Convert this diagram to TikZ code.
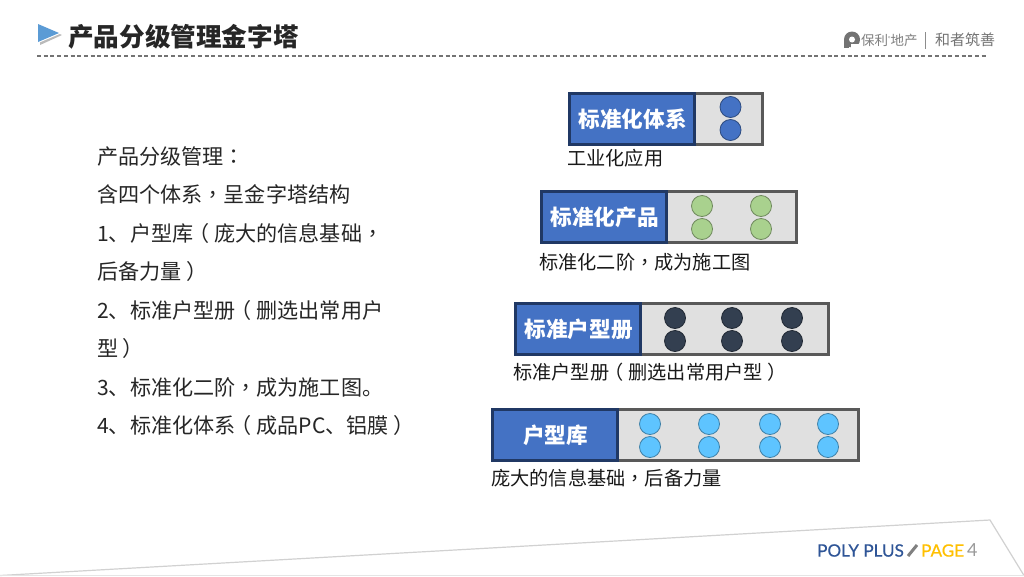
\documentclass[tikz,border=0pt]{standalone}
\usepackage{fontspec}
\setmainfont{Noto Sans CJK SC}
\newfontfamily\latinf{Lato}
\newfontfamily\tcf{Noto Sans CJK TC}
\newcommand{\cma}{{\tcf ，}}
\newcommand{\cln}{{\tcf ：}}
\newcommand{\lpr}{\hbox to 1em{\kern-0.22em （\hss}}
\newcommand{\rpr}{\hbox to 1em{\hss ）\kern-0.22em}}
\usetikzlibrary{calc}
\definecolor{bluefill}{HTML}{4472C4}
\definecolor{blueedge}{HTML}{203864}
\definecolor{grayfill}{HTML}{E0E0E0}
\definecolor{grayedge}{HTML}{595959}
\definecolor{greendot}{HTML}{A9D18E}
\definecolor{darkdot}{HTML}{333F50}
\definecolor{skydot}{HTML}{5EC4FF}
\definecolor{titlecol}{HTML}{262626}
\definecolor{polyblue}{HTML}{2F5597}
\definecolor{pageyel}{HTML}{FFC000}
\definecolor{triblue}{HTML}{5B9BD5}
\tikzset{
  trackbox/.style={draw=grayedge,fill=grayfill,line width=3pt,inner sep=0pt,anchor=north west},
  namebox/.style={draw=blueedge,fill=bluefill,line width=3pt,inner sep=0pt,anchor=north west,text=white,font=\fontsize{21.6}{24}\selectfont\bfseries,align=center},
  dot/.style={circle,draw=#1!65!black,fill=#1,line width=0.8pt,minimum size=21pt,inner sep=0pt},
  caption/.style={anchor=west,inner sep=0pt,text=black!90,font=\fontsize{19.2}{23}\selectfont},
}
\newcommand{\boxpair}[7]{% name,x0,xsplit,x1,y0,y1,text
  \node[trackbox,minimum width={(#4-#2-3)*1pt},minimum height={(#6-#5-3)*1pt}] (#1track) at (#2,#5) {};
  \node[namebox,minimum width={(#3-#2-3)*1pt},minimum height={(#6-#5-3)*1pt}] (#1name) at (#2,#5) {\hspace{1.5pt}\raisebox{-0.5pt}{#7}};
}
\newcommand{\dotcol}[5]{% name,x,ytop,ybot,colour
  \node[dot=#5] (#1t) at (#2,#3) {};
  \node[dot=#5] (#1b) at (#2,#4) {};
}
\begin{document}
\begin{tikzpicture}[x=1pt,y=-1pt]
\useasboundingbox (0,0) rectangle (1024,576);
\fill[white] (0,0) rectangle (1024,576);

% header
\fill[black!45,opacity=.6] (40,26) -- (62,35) -- (40,45) -- cycle;
\fill[white] (37,22.5) -- (62,33) -- (37,43.5) -- cycle;
\fill[triblue] (38,24) -- (59,33) -- (38,42) -- cycle;
\node[anchor=west,inner sep=0pt,text=titlecol,font=\fontsize{25.6}{28}\selectfont\bfseries] (title) at (68,37) {产品分级管理金字塔};
\coordinate (ruleL) at (37,56);
\coordinate (ruleR) at (988,56);
\draw[black!55,line width=1.2pt,dash pattern=on 4pt off 2.7pt] (ruleL) -- (ruleR);

% logo
\fill[black!55] (852,39.5) circle (8);
\fill[black!55] (844,39.5) rectangle (849,48);
\fill[white] (852,39.5) circle (3);
\fill[white] (851,43.5) -- (860,43.5) -- (860,49) -- (851,49) -- cycle;
\node[anchor=west,inner sep=0pt,text=black!50,font=\fontsize{13.5}{15}\selectfont] (logoA) at (861,40) {保利\raisebox{5pt}{\fontsize{5}{5}\selectfont ®}地产};
\node[inner sep=0pt,minimum width=1pt,minimum height=17pt,fill=black!45] (logoBar) at (925.5,40) {};
\node[anchor=west,inner sep=0pt,text=black!55,font=\fontsize{15}{16}\selectfont] (logoB) at (935,40) {和者筑善};

% left text
\node[anchor=north west,inner sep=0pt,align=left,text=black!85,font=\fontsize{21.1}{38.5}\selectfont] (body) at (97,146) {%
产品分级管理\cln\\
含四个体系\cma 呈金字塔结构\\
1、户型库\lpr 庞大的信息基础\cma\\
后备力量\rpr\\
2、标准户型册\lpr 删选出常用户\\
型\rpr\\
3、标准化二阶\cma 成为施工图。\\
4、标准化体系\lpr 成品PC、铝膜\rpr};

% tier 1
\boxpair{a}{568}{696}{764}{92}{146}{标准化体系}
\dotcol{a1}{730.5}{107}{130}{bluefill}
\node[caption] (acap) at (567,158) {工业化应用};

% tier 2
\boxpair{b}{540}{668}{798}{190}{244}{标准化产品}
\dotcol{b1}{702}{206}{229}{greendot}
\dotcol{b2}{761}{206}{229}{greendot}
\node[caption] (bcap) at (539,262) {标准化二阶\cma 成为施工图};

% tier 3
\boxpair{c}{514}{642}{830}{302}{356}{标准户型册}
\dotcol{c1}{675}{318}{341}{darkdot}
\dotcol{c2}{732}{318}{341}{darkdot}
\dotcol{c3}{792}{318}{341}{darkdot}
\node[caption] (ccap) at (513,372.5) {标准户型册\lpr 删选出常用户型\rpr};

% tier 4
\boxpair{d}{491}{619}{860}{408}{462}{户型库}
\dotcol{d1}{650}{424}{447}{skydot}
\dotcol{d2}{709}{424}{447}{skydot}
\dotcol{d3}{770}{424}{447}{skydot}
\dotcol{d4}{828}{424}{447}{skydot}
\node[caption] (dcap) at (491,478) {庞大的信息基础\cma 后备力量};

% footer
\coordinate (fA) at (0,575.5);
\coordinate (fB) at (990,520);
\coordinate (fC) at (1024,575.5);
\draw[black!18,line width=1.2pt] (fA) -- (fB) -- (fC);
\draw[black!10,line width=1pt] (fA) -- (fC);
\node[anchor=west,inner sep=0pt,text=polyblue,font=\latinf\fontsize{17.1}{20}\selectfont] (poly) at (817,550.5) {\addfontfeature{FakeBold=0.5}POLY PLUS};
\coordinate (slashA) at (908,556);
\coordinate (slashB) at (917,545);
\draw[black!50,line width=3pt] (slashA) -- (slashB);
\node[anchor=west,inner sep=0pt,text=pageyel,font=\latinf\fontsize{17}{20}\selectfont] (page) at (921,550.5) {\addfontfeature{FakeBold=0.5}PAGE};
\node[anchor=west,inner sep=0pt,text=black!40,font=\latinf\fontsize{18}{20}\selectfont] (pnum) at (967,550.5) {4};
\end{tikzpicture}
\end{document}
